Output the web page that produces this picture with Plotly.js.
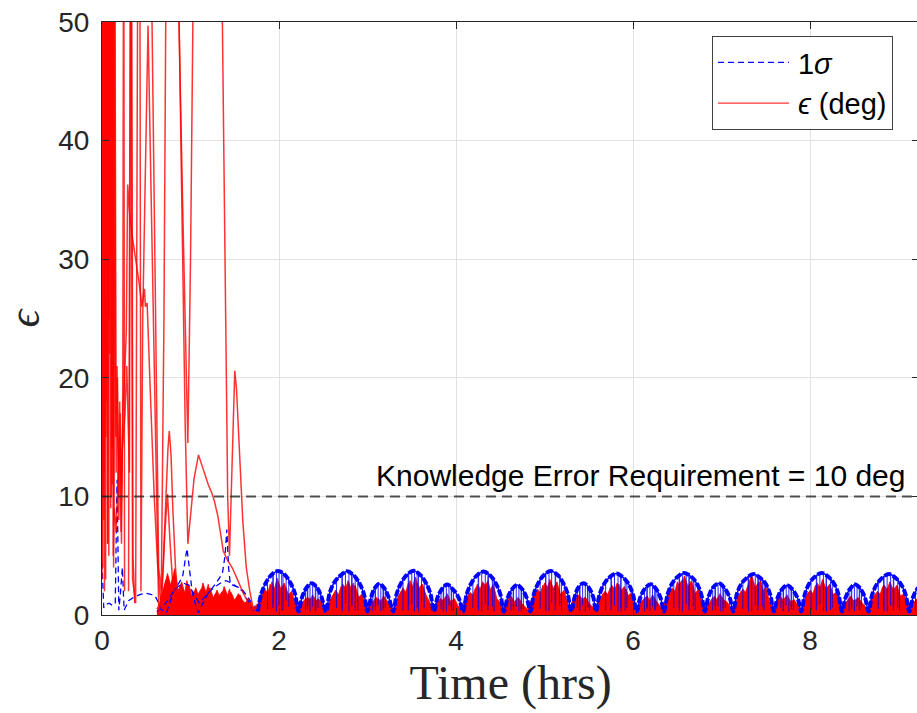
<!DOCTYPE html>
<html><head><meta charset="utf-8">
<script src="https://cdn.plot.ly/plotly-3.0.1.min.js"></script>
<style>html,body{margin:0;padding:0;overflow:hidden;background:#fff}#chart{width:919px;height:713px}</style>
</head><body><div id="chart"></div>
<script>
// ---------- tick labels ----------
const xTicks = [0, 2, 4, 6, 8];
const yTicks = [0, 10, 20, 30, 40, 50];
const requirement = 10;
const reqT = [0, 9.3];

// ---------- steady-state error envelopes (deg), two sets of runs, sampled every 0.04 h ----------
const envStep = 0.04;
const envStartA = 0.62;
const errEnvelopeA = [
 0.3,0.9,2.3,3.5,2.4,3.9,2.0,2.8,1.7,2.6,1.5,2.3,1.4,2.7,1.8,2.3,1.4,2.1,1.3,2.4,1.6,1.9,1.2,1.8,1.3,1.0,1.4,0.7,0.5,
 1.2,1.9,1.5,2.6,2.0,3.1,2.2,2.7,1.6,2.0,1.1, 0.5,
 1.0,1.4,1.1,1.7,1.2,1.3,0.8, 0.4,
 1.3,1.8,1.4,2.4,1.9,2.9,2.1,2.5,1.5,1.8,0.9, 0.5,
 1.1,1.5,1.0,1.6,1.2,0.8, 0.4,
 1.4,2.0,1.6,2.7,2.2,3.2,2.3,2.6,1.7,1.1, 0.5,
 1.0,1.4,1.2,1.8,1.1,1.4,0.8, 0.4,
 1.2,1.7,1.5,2.3,1.9,2.8,2.4,2.0,2.6,1.4,1.0, 0.5,
 1.2,1.6,1.1,1.5,1.0,0.7, 0.4,
 1.4,2.0,1.5,2.5,2.0,3.0,2.2,2.8,1.7,2.1,1.0, 0.5,
 1.1,1.7,1.3,1.5,1.0,0.7, 0.4,
 1.2,1.8,1.4,2.3,1.9,2.7,2.0,2.4,1.6,1.9,0.9, 0.5,
 1.2,1.5,1.1,1.7,1.2,0.8, 0.4,
 1.3,2.1,1.6,2.8,2.2,3.3,2.4,2.9,1.8,2.2,1.0, 0.5,
 1.0,1.5,1.2,1.8,1.3,1.1,0.7, 0.4,
 1.4,2.0,1.7,2.6,3.4,2.3,2.8,1.9,2.4,1.1, 0.5,
 1.1,1.6,1.2,1.7,1.1,1.3,0.8, 0.4,
 1.3,1.9,1.5,2.5,2.0,3.0,2.2,2.6,1.7,2.0,1.0, 0.5,
 1.2,1.6,1.0,1.5,1.1,0.7, 0.4,
 1.3,1.8,1.5,2.4,1.9,2.8,2.1,2.5,1.6,1.8,0.9, 0.5,
 1.1,1.5,1.2
];
const envStartB = 0.64;
const errEnvelopeB = [
 0.6,1.8,2.9,2.0,3.2,1.6,2.4,1.3,2.9,1.2,2.0,1.7,2.2,1.5,2.6,1.1,1.8,1.6,2.0,1.2,2.2,1.0,1.5,1.7,0.9,1.2,0.8,0.4,
 0.9,1.6,2.2,1.7,2.8,1.9,2.5,1.8,2.3,1.4,0.8, 0.4,
 1.2,0.9,1.5,1.3,1.0,1.4,0.7, 0.4,
 1.0,1.6,2.1,1.6,2.6,2.2,2.0,2.7,1.4,1.2,0.7, 0.4,
 1.3,0.9,1.4,1.1,1.3,0.6, 0.3,
 1.1,1.7,2.3,1.8,2.9,2.0,2.4,1.9,1.3,0.8, 0.4,
 0.8,1.3,1.0,1.5,1.2,0.9,0.6, 0.3,
 1.0,1.5,1.9,1.6,2.6,2.1,2.3,2.9,1.8,1.2,0.7, 0.4,
 1.0,1.4,1.3,1.0,1.3,0.6, 0.3,
 1.1,1.7,2.2,1.8,2.7,2.3,2.0,2.5,1.9,1.3,0.8, 0.4,
 1.3,1.0,1.6,1.2,1.3,0.6, 0.3,
 1.0,1.5,2.0,1.7,2.5,2.1,2.6,1.8,2.2,1.3,0.7, 0.4,
 1.0,1.3,1.6,1.0,1.4,0.6, 0.3,
 1.1,1.6,2.3,1.9,2.6,3.0,2.1,2.5,1.6,1.4,0.8, 0.4,
 1.2,0.9,1.6,1.1,1.5,0.9,0.5, 0.3,
 1.0,1.7,2.2,1.8,2.9,2.5,2.1,3.0,1.7,0.9, 0.4,
 0.9,1.4,1.0,1.5,1.3,0.9,0.6, 0.3,
 1.0,1.6,2.1,1.7,2.7,2.2,2.4,1.8,2.2,1.3,0.7, 0.4,
 1.0,1.4,1.2,1.3,0.9,0.5, 0.3,
 1.0,1.5,2.0,1.7,2.5,2.0,2.3,1.9,1.4,1.2,0.7, 0.4,
 1.3,0.9,1.4
];

// ---------- 1-sigma envelope arches (deg) ----------
const sigT = [1.76,1.80,1.85,1.91,1.99,2.07,2.13,2.18,2.22,2.26,2.31,2.37,2.43,2.48,2.53,
 2.57,2.62,2.69,2.77,2.85,2.91,2.96,3.00,3.04,3.08,3.13,3.19,3.24,3.29,
 3.33,3.38,3.44,3.52,3.60,3.66,3.71,3.75,3.79,3.84,3.90,3.96,4.03,4.08,
 4.12,4.17,4.23,4.31,4.39,4.45,4.50,4.54,4.58,4.63,4.69,4.75,4.80,4.84,
 4.88,4.93,4.99,5.07,5.15,5.21,5.26,5.30,5.34,5.38,5.44,5.50,5.55,5.58,
 5.62,5.67,5.73,5.81,5.89,5.95,6.00,6.04,6.08,6.13,6.20,6.26,6.31,6.35,
 6.39,6.44,6.50,6.58,6.66,6.72,6.77,6.81,6.85,6.90,6.97,7.03,7.09,7.13,
 7.17,7.22,7.28,7.36,7.44,7.50,7.55,7.59,7.63,7.68,7.74,7.80,7.86,7.90,
 7.94,7.99,8.05,8.13,8.21,8.27,8.32,8.36,8.40,8.45,8.51,8.57,8.62,8.66,
 8.70,8.75,8.81,8.89,8.97,9.03,9.08,9.12,9.16,9.21,9.28];
const sigY = [0.3,1.8,2.7,3.35,3.72,3.35,2.7,1.8,0.3,1.5,2.3,2.68,2.3,1.5,0.3,
 1.8,2.7,3.3,3.68,3.3,2.65,1.75,0.3,1.5,2.25,2.62,2.25,1.45,0.3,
 1.8,2.7,3.35,3.74,3.35,2.7,1.8,0.3,1.45,2.2,2.58,2.2,1.45,0.3,
 1.75,2.65,3.3,3.66,3.3,2.65,1.75,0.3,1.4,2.15,2.52,2.15,1.4,0.3,
 1.8,2.7,3.35,3.7,3.35,2.7,1.8,0.3,1.5,2.3,2.68,2.3,1.5,0.3,
 1.7,2.6,3.15,3.5,3.15,2.6,1.7,0.3,1.45,2.2,2.6,2.2,1.45,0.3,
 1.75,2.65,3.2,3.55,3.2,2.65,1.75,0.3,1.5,2.3,2.68,2.3,1.5,0.3,
 1.7,2.6,3.1,3.45,3.1,2.6,1.7,0.3,1.4,2.15,2.5,2.15,1.4,0.3,
 1.75,2.65,3.2,3.55,3.2,2.65,1.75,0.3,1.45,2.2,2.58,2.2,1.45,0.3,
 1.7,2.55,3.1,3.45,3.1,2.55,1.7,0.3,1.45,2.2,2.6];

// early 1-sigma transients
const sigEarlyT = [0,0.02,0.05,0.08,0.12,0.15,0.17,0.19,0.21,0.23,0.25,0.3,0.36,0.42,0.49,0.55,0.6,0.65,0.68,0.73,0.8,0.86,0.91,0.96,1.0,1.02,1.06,1.09,1.14,1.2,1.28,1.36,1.39,1.41,1.43,1.45,1.52,1.59,1.65,1.7,1.76];
const sigEarlyY = [4.4,0.6,0.9,1.0,0.8,1.0,11.4,0.4,2.0,4.0,0.4,1.2,1.5,1.7,1.85,1.75,1.6,0.9,0.4,0.2,1.85,2.6,3.2,5.6,3.0,1.9,0.8,0.2,1.0,1.85,2.6,3.5,5.0,7.2,4.0,2.6,2.4,2.0,1.2,0.4,0.3];
const sigEarly2T = [0.62,0.68,0.74,0.8,0.86,0.92,0.98,1.04,1.1,1.16,1.22,1.28,1.34,1.4,1.46,1.52,1.58,1.64,1.7,1.76];
const sigEarly2Y = [0.3,0.6,1.2,1.9,2.4,2.7,2.5,1.8,1.0,1.5,2.0,2.4,2.7,2.9,2.7,2.4,2.2,1.6,0.9,0.3];

// 1-sigma resets (vertical drops inside arches)
const dropT = [1.93,1.97,2.00,2.03,2.08, 2.32,2.35,2.38,2.41, 2.71,2.75,2.79,2.82,2.86, 3.09,3.12,3.15,3.18,
 3.46,3.50,3.53,3.56,3.61, 3.86,3.89,3.92,3.95, 4.25,4.29,4.33,4.36,4.41, 4.65,4.68,4.71,4.74,
 5.01,5.05,5.08,5.12,5.17, 5.40,5.43,5.46,5.49, 5.75,5.79,5.83,5.86,5.91, 6.16,6.19,6.22,6.25,
 6.52,6.56,6.60,6.63,6.68, 6.93,6.96,6.99,7.02, 7.30,7.34,7.38,7.41,7.46, 7.70,7.73,7.76,7.79,
 8.07,8.11,8.15,8.18,8.23, 8.47,8.50,8.53,8.56, 8.83,8.87,8.91,8.94,8.99, 9.19,9.22,
 1.87,1.935,2.045,2.11, 2.30,2.325,2.415,2.44, 2.65,2.715,2.825,2.89, 3.06,3.085,3.175,3.20,
 3.40,3.465,3.575,3.64, 3.83,3.855,3.945,3.97, 4.19,4.255,4.365,4.43, 4.62,4.645,4.735,4.76,
 4.95,5.015,5.125,5.19, 5.37,5.395,5.485,5.51, 5.69,5.755,5.865,5.93, 6.13,6.155,6.245,6.27,
 6.46,6.525,6.635,6.70, 6.90,6.925,7.015,7.04, 7.24,7.305,7.415,7.48, 7.67,7.695,7.785,7.81,
 8.01,8.075,8.185,8.25, 8.44,8.465,8.555,8.58, 8.77,8.835,8.945,9.01];
const dropTop = [3.4,3.65,3.7,3.6,3.3, 2.35,2.6,2.65,2.5, 3.4,3.6,3.65,3.5,3.2, 2.3,2.55,2.55,2.35,
 3.45,3.7,3.7,3.6,3.3, 2.35,2.55,2.5,2.3, 3.4,3.6,3.6,3.45,3.2, 2.3,2.5,2.45,2.25,
 3.45,3.65,3.7,3.5,3.2, 2.45,2.65,2.6,2.35, 3.25,3.45,3.45,3.3,3.0, 2.4,2.58,2.55,2.3,
 3.3,3.5,3.5,3.35,3.1, 2.5,2.65,2.6,2.4, 3.2,3.4,3.4,3.3,3.0, 2.3,2.48,2.45,2.25,
 3.3,3.5,3.5,3.35,3.1, 2.35,2.55,2.5,2.3, 3.2,3.4,3.4,3.25,3.0, 1.9,2.3,
 2.95,3.5,3.5,2.95, 2.1,2.4,2.4,2.1, 2.9,3.45,3.45,2.9, 2.05,2.35,2.35,2.05,
 2.95,3.5,3.5,2.95, 2.0,2.3,2.3,2.0, 2.9,3.45,3.45,2.9, 2.0,2.3,2.3,2.0,
 2.95,3.5,3.5,2.95, 2.1,2.4,2.4,2.1, 2.8,3.3,3.3,2.8, 2.05,2.35,2.35,2.05,
 2.85,3.35,3.35,2.85, 2.1,2.4,2.4,2.1, 2.75,3.25,3.25,2.75, 1.95,2.25,2.25,1.95,
 2.85,3.35,3.35,2.85, 2.0,2.3,2.3,2.0, 2.75,3.25,3.25,2.75];
const dropLow = [0.6,0.3,0.8,0.4,1.2, 0.5,0.3,0.7,0.4, 0.5,1.0,0.3,0.7,0.4, 0.4,0.8,0.3,0.6,
 0.4,0.9,0.3,0.6,1.0, 0.5,0.3,0.8,0.4, 0.6,0.3,0.9,0.4,0.7, 0.4,0.7,0.3,0.5,
 0.5,0.3,1.0,0.4,0.8, 0.4,0.8,0.3,0.6, 0.4,0.8,0.3,0.6,0.4, 0.5,0.3,0.7,0.4,
 0.5,0.3,0.9,0.4,0.7, 0.4,0.7,0.3,0.6, 0.6,0.3,0.8,0.4,0.7, 0.4,0.8,0.3,0.5,
 0.4,0.9,0.3,0.6,0.4, 0.5,0.3,0.7,0.4, 0.5,0.3,0.8,0.4,0.6, 0.4,0.6,
 0.5,0.9,0.4,0.7, 0.4,0.8,0.3,0.6, 0.6,0.3,0.8,0.4, 0.3,0.7,0.4,0.6,
 0.4,0.8,0.3,0.6, 0.5,0.3,0.7,0.4, 0.6,0.4,0.8,0.3, 0.4,0.7,0.3,0.5,
 0.5,0.3,0.9,0.4, 0.6,0.3,0.7,0.4, 0.4,0.8,0.3,0.6, 0.3,0.6,0.4,0.7,
 0.6,0.3,0.8,0.4, 0.4,0.8,0.3,0.6, 0.5,0.3,0.8,0.4, 0.6,0.3,0.7,0.4,
 0.4,0.8,0.3,0.6, 0.3,0.7,0.4,0.6, 0.5,0.3,0.8,0.4];

// ---------- transient pointing error runs (deg) ----------
const run1T = [0,0.006,0.013,0.02,0.028,0.036,0.045,0.054,0.063,0.072,0.081,0.09,0.099,0.108,0.117,0.126,0.135,0.145,0.16,0.175,0.19,0.205,0.22,0.235,0.245,0.255];
const run1E = [3,85,10,90,2,75,18,95,6,80,25,88,9,70,14,92,8,60,12,20,8,17,6,19,70,2];
const run2T = [0,0.009,0.017,0.025,0.033,0.041,0.05,0.059,0.068,0.077,0.086,0.095,0.104,0.113,0.122,0.131,0.14,0.155,0.17,0.185,0.2,0.215,0.23,0.26,0.28,0.31,0.33,0.35,0.37];
const run2E = [60,4,78,12,88,3,72,20,85,5,66,30,90,11,77,4,55,15,21,10,18,7,14,17,21,12,70,5,1];
const run3T = [0,0.011,0.022,0.032,0.043,0.053,0.064,0.074,0.085,0.095,0.106,0.116,0.127,0.14,0.16,0.18,0.2,0.22,0.24,0.26,0.275,0.29,0.31,0.34,0.38,0.42,0.45,0.48,0.49,0.51,0.55,0.59,0.63,0.66,0.7];
const run3E = [40,70,8,95,15,65,6,80,22,90,10,75,5,9,7,12,15,11,18,21,24,36.3,34,32,30,28,26,27.5,26,26.3,18,10,4,1.3,0.8];
const run4T = [0.3,0.325,0.345,0.38,0.41,0.425,0.44,0.46,0.52,0.58,0.64,0.68];
const run4E = [2,70,3,1,70,70,2,25,49.7,25,0.8,0.5];
const run5T = [0.5,0.56,0.6,0.64,0.67,0.7,0.72,0.74];
const run5E = [90,55,28,4,2,25,50,75];
const run6T = [0.62,0.66,0.69,0.72,0.745,0.76,0.78,0.8,0.83,0.86,0.9];
const run6E = [0.5,1,4,10,14,15.5,13.5,9,4,1.3,0.8];
const run7T = [0.64,0.68,0.71,0.74,0.77,0.8,0.84];
const run7E = [0.3,2,7,10.2,6,2.5,1];
const run8T = [0.84,0.87,0.91,0.94,0.97,1.0,1.03,1.06];
const run8E = [80,50,35,25,14.5,30,50,75];
const run9T = [0.82,0.87,0.91,0.94,0.97,1.0,1.04,1.09,1.12,1.15,1.2,1.24,1.27,1.31,1.37,1.42,1.47,1.53,1.58,1.64,1.7,1.75];
const run9E = [75,50,30,16,6,8.5,11.5,13.5,12.8,12.2,11.0,10.3,9.6,8.3,5.4,4.6,4,3,2.1,1.2,0.4,0.6];
const run10T = [1.33,1.36,1.39,1.42,1.44,1.47,1.5,1.52,1.55,1.59,1.63,1.67,1.71,1.75];
const run10E = [70,50,30,10,5,14,20.6,19,14,8,4,2,0.5,0.9];

// ---------- build traces ----------
const RED_LINE = 'rgba(255,0,0,0.8)';
const BLUE = '#0000ff';
const traces = [];

traces.push({type:'scatter', mode:'lines', x0:envStartA, dx:envStep, y:errEnvelopeA,
  fill:'tozeroy', fillcolor:'#ff0000', line:{color:'#ff0000', width:0.8}, showlegend:false, hoverinfo:'skip'});
traces.push({type:'scatter', mode:'lines', x0:envStartB, dx:envStep, y:errEnvelopeB,
  fill:'tozeroy', fillcolor:'#ff0000', line:{color:'#ff0000', width:0.8}, showlegend:false, hoverinfo:'skip'});

traces.push({type:'scatter', mode:'lines', x:sigEarlyT, y:sigEarlyY, name:'1<i>σ</i>', legendgroup:'s',
  line:{color:BLUE, width:1.3, dash:'6px,4px'}, showlegend:true});
traces.push({type:'scatter', mode:'lines', x:sigEarly2T, y:sigEarly2Y, legendgroup:'s',
  line:{color:BLUE, width:1.2, dash:'6px,4px'}, showlegend:false});

const dX = [], dY = [];
for (let i = 0; i < dropT.length; i++) {
  dX.push(dropT[i], dropT[i], null);
  dY.push(dropTop[i], dropLow[i], null);
}
traces.push({type:'scatter', mode:'lines', x:dX, y:dY, legendgroup:'s',
  line:{color:BLUE, width:1}, opacity:0.85, showlegend:false, connectgaps:false});

traces.push({type:'scatter', mode:'lines', x:sigT, y:sigY, legendgroup:'s',
  line:{color:BLUE, width:4, dash:'7px,2px', shape:'spline', smoothing:1}, showlegend:false});
traces.push({type:'scatter', mode:'lines', x:sigT, y:sigY, legendgroup:'s',
  line:{color:BLUE, width:1.5, shape:'spline', smoothing:1}, showlegend:false});

const runs = [[run1T,run1E],[run2T,run2E],[run3T,run3E],[run4T,run4E],[run5T,run5E],
  [run6T,run6E],[run7T,run7E],[run8T,run8E],[run9T,run9E],[run10T,run10E]];
runs.forEach((r, k) => {
  traces.push({type:'scatter', mode:'lines', x:r[0], y:r[1], name:'<i>ϵ</i> (deg)', legendgroup:'e',
    showlegend: k === 0, line:{color:RED_LINE, width:1.5}});
});

traces.push({type:'scatter', mode:'lines', x:reqT, y:[requirement, requirement], showlegend:false,
  line:{color:'rgba(40,40,40,0.8)', width:2, dash:'10px,6px'}});

const tickFont = {family:'Liberation Sans, Arial, sans-serif', size:28, color:'#262626'};
const layout = {
  width:919, height:713,
  margin:{l:102, r:0, t:22, b:98},
  paper_bgcolor:'#ffffff', plot_bgcolor:'#ffffff',
  showlegend:true,
  legend:{x:0.7466, y:0.9764, xanchor:'left', yanchor:'top', bgcolor:'#ffffff',
    bordercolor:'#404040', borderwidth:1, itemwidth:75, tracegroupgap:0,
    font:{family:'Liberation Sans, Arial, sans-serif', size:29, color:'#000'}},
  xaxis:{range:[0, 9.23], tickvals:xTicks, ticktext:xTicks.map(String), ticks:'inside', ticklen:7,
    tickcolor:'#262626', showline:true, linecolor:'#262626', linewidth:1, mirror:'allticks',
    showgrid:true, gridcolor:'#e2e2e2', zeroline:false, tickfont:tickFont,
    title:{text:'Time (hrs)', font:{family:'Liberation Serif, Times New Roman, serif', size:48, color:'#262626'}, standoff:6}},
  yaxis:{range:[0, 50], tickvals:yTicks, ticktext:yTicks.map(String), ticks:'inside', ticklen:7,
    tickcolor:'#262626', showline:true, linecolor:'#262626', linewidth:1, mirror:'allticks',
    showgrid:true, gridcolor:'#e2e2e2', zeroline:false, tickfont:tickFont, ticklabelstandoff:6,
    title:{text:'<i>ϵ</i>', font:{family:'Liberation Serif, Times New Roman, serif', size:44, color:'#262626'}, standoff:14}},
  annotations:[{x:9.1, y:11.75, xref:'x', yref:'y', text:'Knowledge Error Requirement = ' + requirement + ' deg',
    showarrow:false, xanchor:'right', yanchor:'middle',
    font:{family:'Liberation Sans, Arial, sans-serif', size:30, color:'#000'}}]
};

Plotly.newPlot('chart', traces, layout, {staticPlot:true}).then(gd => {
  gd.querySelectorAll('.legend path.js-line').forEach(p => {
    p.setAttribute('d', 'M5,0h71');
    p.style.strokeWidth = '1.3px';
  });
});
</script></body></html>
